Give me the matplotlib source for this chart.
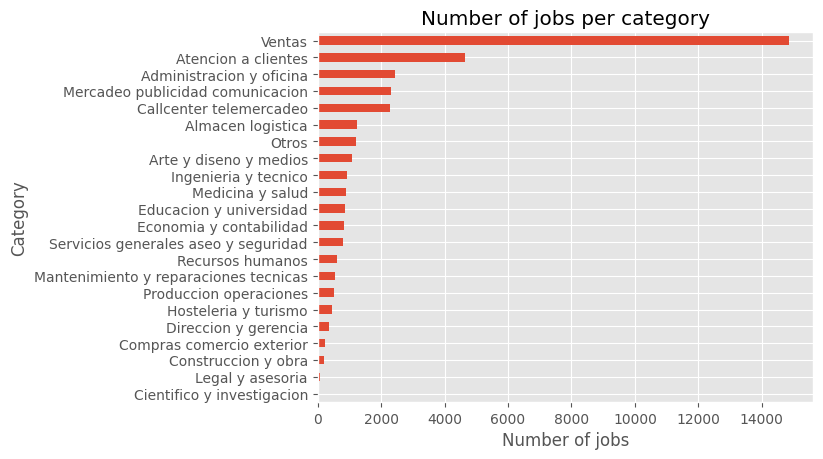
import matplotlib
matplotlib.use("Agg")
import matplotlib.pyplot as plt
import pandas as pd

plt.style.use("ggplot")

categories = [
    "Ventas", "Atencion a clientes", "Administracion y oficina",
    "Mercadeo publicidad comunicacion", "Callcenter telemercadeo",
    "Almacen logistica", "Otros", "Arte y diseno y medios",
    "Ingenieria y tecnico", "Medicina y salud", "Educacion y universidad",
    "Economia y contabilidad", "Servicios generales aseo y seguridad",
    "Recursos humanos", "Mantenimiento y reparaciones tecnicas",
    "Produccion operaciones", "Hosteleria y turismo", "Direccion y gerencia",
    "Compras comercio exterior", "Construccion y obra", "Legal y asesoria",
    "Cientifico y investigacion",
]
job_counts = [
    14860, 4630, 2425, 2300, 2265, 1230, 1220, 1070, 915, 880, 850, 818,
    787, 600, 535, 505, 440, 346, 220, 190, 80, 45,
]

counts = pd.Series(job_counts, index=categories).sort_values()

fig = plt.figure(figsize=(8.23, 4.6), dpi=100)
ax = fig.add_subplot(111)
counts.plot(kind="barh", ax=ax)
ax.set_title("Number of jobs per category")
ax.set_xlabel("Number of jobs")
ax.set_ylabel("Category")
fig.subplots_adjust(left=0.386, right=0.9875, top=0.928, bottom=0.124)
fig.savefig("out.png", dpi=100)
